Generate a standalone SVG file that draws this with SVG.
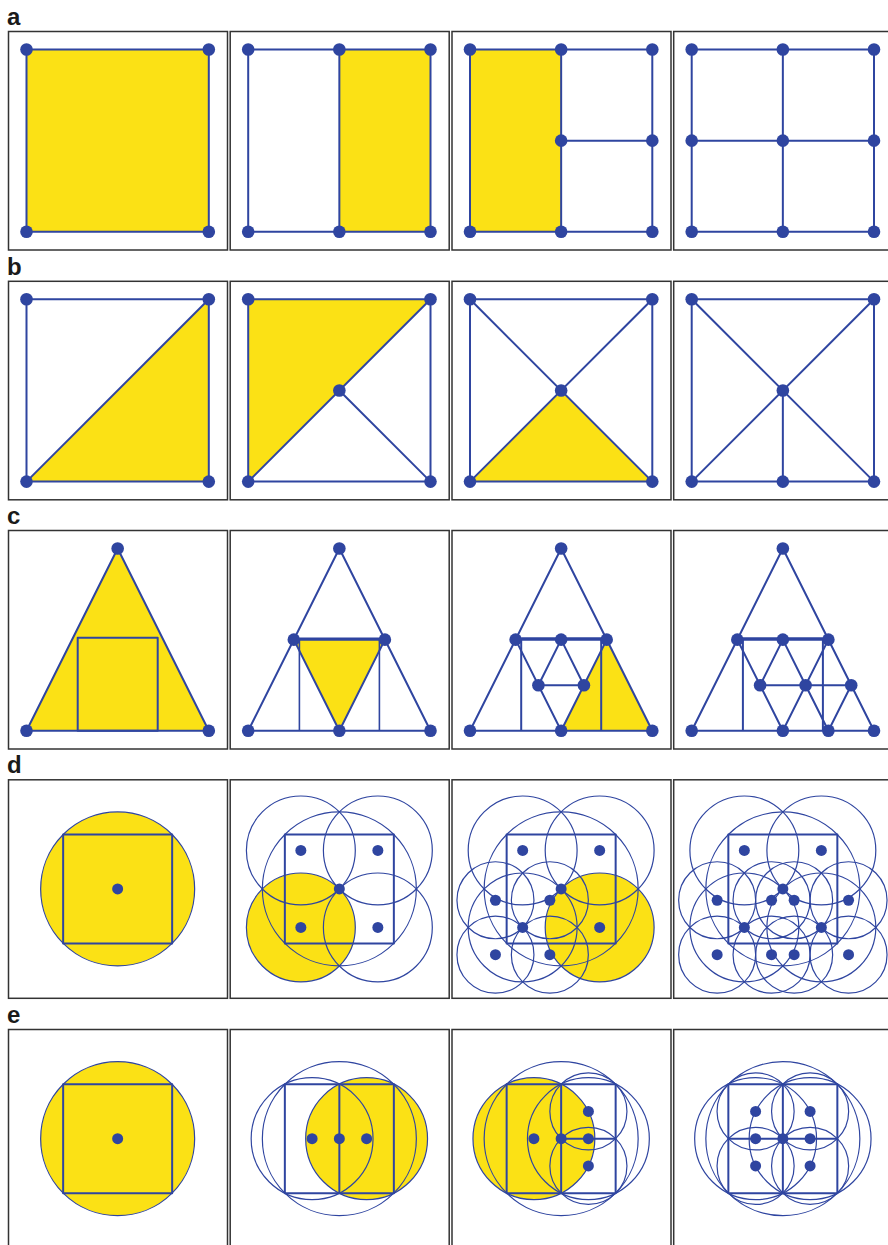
<svg xmlns="http://www.w3.org/2000/svg" width="888" height="1245" viewBox="0 0 888 1245">
<style>
.bg{fill:#ffffff}
.frame{fill:#ffffff;stroke:#333333;stroke-width:1.5}
.ln{fill:none;stroke:#2F45A0;stroke-width:2;stroke-linejoin:round}
.mid{fill:none;stroke:#2F45A0;stroke-width:1.6}
.thin{fill:none;stroke:#2F45A0;stroke-width:1.2}
.yl{fill:#FBE115}
.nd{fill:#2F45A0}
.lbl{font-family:"Liberation Sans",Arial,sans-serif;font-weight:bold;font-size:24px;fill:#1a1a1a}
</style>
<rect class="bg" x="0" y="0" width="888" height="1245"/>
<g id="labels">
<text class="lbl" x="7" y="25">a</text>
<text class="lbl" x="7" y="274.5">b</text>
<text class="lbl" x="7" y="524">c</text>
<text class="lbl" x="7" y="773">d</text>
<text class="lbl" x="7" y="1023">e</text>
</g>

<!-- Row a -->
<g id="a1" transform="translate(8,31)">
<rect class="frame" x="0.5" y="0.5" width="219" height="218.5"/>
<rect class="yl" x="18.5" y="18.5" width="182.3" height="182.3"/>
<rect class="ln" x="18.5" y="18.5" width="182.3" height="182.3"/>
<circle class="nd" cx="18.5" cy="18.5" r="6.3"/><circle class="nd" cx="200.8" cy="18.5" r="6.3"/>
<circle class="nd" cx="18.5" cy="200.8" r="6.3"/><circle class="nd" cx="200.8" cy="200.8" r="6.3"/>
</g>
<g id="a2" transform="translate(229.7,31)">
<rect class="frame" x="0.5" y="0.5" width="219" height="218.5"/>
<rect class="yl" x="109.65" y="18.5" width="91.15" height="182.3"/>
<rect class="ln" x="18.5" y="18.5" width="182.3" height="182.3"/>
<path class="ln" d="M109.65 18.5V200.8"/>
<circle class="nd" cx="18.5" cy="18.5" r="6.3"/><circle class="nd" cx="109.65" cy="18.5" r="6.3"/><circle class="nd" cx="200.8" cy="18.5" r="6.3"/>
<circle class="nd" cx="18.5" cy="200.8" r="6.3"/><circle class="nd" cx="109.65" cy="200.8" r="6.3"/><circle class="nd" cx="200.8" cy="200.8" r="6.3"/>
</g>
<g id="a3" transform="translate(451.5,31)">
<rect class="frame" x="0.5" y="0.5" width="219" height="218.5"/>
<rect class="yl" x="18.5" y="18.5" width="91.15" height="182.3"/>
<rect class="ln" x="18.5" y="18.5" width="182.3" height="182.3"/>
<path class="ln" d="M109.65 18.5V200.8M109.65 109.65H200.8"/>
<circle class="nd" cx="18.5" cy="18.5" r="6.3"/><circle class="nd" cx="109.65" cy="18.5" r="6.3"/><circle class="nd" cx="200.8" cy="18.5" r="6.3"/>
<circle class="nd" cx="109.65" cy="109.65" r="6.3"/><circle class="nd" cx="200.8" cy="109.65" r="6.3"/>
<circle class="nd" cx="18.5" cy="200.8" r="6.3"/><circle class="nd" cx="109.65" cy="200.8" r="6.3"/><circle class="nd" cx="200.8" cy="200.8" r="6.3"/>
</g>
<g id="a4" transform="translate(673.2,31)">
<rect class="frame" x="0.5" y="0.5" width="219" height="218.5"/>
<rect class="ln" x="18.5" y="18.5" width="182.3" height="182.3"/>
<path class="ln" d="M109.65 18.5V200.8M18.5 109.65H200.8"/>
<circle class="nd" cx="18.5" cy="18.5" r="6.3"/><circle class="nd" cx="109.65" cy="18.5" r="6.3"/><circle class="nd" cx="200.8" cy="18.5" r="6.3"/>
<circle class="nd" cx="18.5" cy="109.65" r="6.3"/><circle class="nd" cx="109.65" cy="109.65" r="6.3"/><circle class="nd" cx="200.8" cy="109.65" r="6.3"/>
<circle class="nd" cx="18.5" cy="200.8" r="6.3"/><circle class="nd" cx="109.65" cy="200.8" r="6.3"/><circle class="nd" cx="200.8" cy="200.8" r="6.3"/>
</g>

<!-- Row b -->
<g id="b1" transform="translate(8,280.8)">
<rect class="frame" x="0.5" y="0.5" width="219" height="218.5"/>
<polygon class="yl" points="18.5,200.8 200.8,200.8 200.8,18.5"/>
<rect class="ln" x="18.5" y="18.5" width="182.3" height="182.3"/>
<path class="ln" d="M18.5 200.8L200.8 18.5"/>
<circle class="nd" cx="18.5" cy="18.5" r="6.3"/><circle class="nd" cx="200.8" cy="18.5" r="6.3"/>
<circle class="nd" cx="18.5" cy="200.8" r="6.3"/><circle class="nd" cx="200.8" cy="200.8" r="6.3"/>
</g>
<g id="b2" transform="translate(229.7,280.8)">
<rect class="frame" x="0.5" y="0.5" width="219" height="218.5"/>
<polygon class="yl" points="18.5,18.5 200.8,18.5 18.5,200.8"/>
<rect class="ln" x="18.5" y="18.5" width="182.3" height="182.3"/>
<path class="ln" d="M18.5 200.8L200.8 18.5M109.65 109.65L200.8 200.8"/>
<circle class="nd" cx="18.5" cy="18.5" r="6.3"/><circle class="nd" cx="200.8" cy="18.5" r="6.3"/>
<circle class="nd" cx="109.65" cy="109.65" r="6.3"/>
<circle class="nd" cx="18.5" cy="200.8" r="6.3"/><circle class="nd" cx="200.8" cy="200.8" r="6.3"/>
</g>
<g id="b3" transform="translate(451.5,280.8)">
<rect class="frame" x="0.5" y="0.5" width="219" height="218.5"/>
<polygon class="yl" points="18.5,200.8 200.8,200.8 109.65,109.65"/>
<rect class="ln" x="18.5" y="18.5" width="182.3" height="182.3"/>
<path class="ln" d="M18.5 200.8L200.8 18.5M18.5 18.5L200.8 200.8"/>
<circle class="nd" cx="18.5" cy="18.5" r="6.3"/><circle class="nd" cx="200.8" cy="18.5" r="6.3"/>
<circle class="nd" cx="109.65" cy="109.65" r="6.3"/>
<circle class="nd" cx="18.5" cy="200.8" r="6.3"/><circle class="nd" cx="200.8" cy="200.8" r="6.3"/>
</g>
<g id="b4" transform="translate(673.2,280.8)">
<rect class="frame" x="0.5" y="0.5" width="219" height="218.5"/>
<rect class="ln" x="18.5" y="18.5" width="182.3" height="182.3"/>
<path class="ln" d="M18.5 200.8L200.8 18.5M18.5 18.5L200.8 200.8M109.65 109.65V200.8"/>
<circle class="nd" cx="18.5" cy="18.5" r="6.3"/><circle class="nd" cx="200.8" cy="18.5" r="6.3"/>
<circle class="nd" cx="109.65" cy="109.65" r="6.3"/>
<circle class="nd" cx="18.5" cy="200.8" r="6.3"/><circle class="nd" cx="109.65" cy="200.8" r="6.3"/><circle class="nd" cx="200.8" cy="200.8" r="6.3"/>
</g>

<!-- Row c -->
<g id="c1" transform="translate(8,530)">
<rect class="frame" x="0.5" y="0.5" width="219" height="218.5"/>
<polygon class="yl" points="109.65,18.5 200.8,200.8 18.5,200.8"/>
<polygon class="ln" points="109.65,18.5 200.8,200.8 18.5,200.8"/>
<rect class="ln" x="69.7" y="107.8" width="80" height="93"/>
<circle class="nd" cx="109.65" cy="18.5" r="6.3"/>
<circle class="nd" cx="18.5" cy="200.8" r="6.3"/><circle class="nd" cx="200.8" cy="200.8" r="6.3"/>
</g>
<g id="c2" transform="translate(229.7,530)">
<rect class="frame" x="0.5" y="0.5" width="219" height="218.5"/>
<polygon class="yl" points="64.1,109.65 155.2,109.65 109.65,200.8"/>
<polygon class="ln" points="109.65,18.5 200.8,200.8 18.5,200.8"/>
<path class="mid" d="M69.7 108.3V200.8M149.7 108.3V200.8M69.7 108.3H149.7"/>
<path class="ln" d="M64.1 109.65H155.2L109.65 200.8L64.1 109.65"/>
<circle class="nd" cx="109.65" cy="18.5" r="6.3"/>
<circle class="nd" cx="64.1" cy="109.65" r="6.3"/><circle class="nd" cx="155.2" cy="109.65" r="6.3"/>
<circle class="nd" cx="18.5" cy="200.8" r="6.3"/><circle class="nd" cx="109.65" cy="200.8" r="6.3"/><circle class="nd" cx="200.8" cy="200.8" r="6.3"/>
</g>
<g id="c3" transform="translate(451.5,530)">
<rect class="frame" x="0.5" y="0.5" width="219" height="218.5"/>
<polygon class="yl" points="155.2,109.65 109.65,200.8 200.8,200.8"/>
<polygon class="ln" points="109.65,18.5 200.8,200.8 18.5,200.8"/>
<path class="ln" d="M69.7 108.3V200.8M149.7 108.3V200.8M69.7 108.3H149.7"/>
<path class="ln" d="M64.1 109.65H155.2L109.65 200.8L64.1 109.65"/>
<path class="ln" d="M86.9 155.2L109.65 109.65L132.4 155.2Z"/>
<circle class="nd" cx="109.65" cy="18.5" r="6.3"/>
<circle class="nd" cx="64.1" cy="109.65" r="6.3"/><circle class="nd" cx="109.65" cy="109.65" r="6.3"/><circle class="nd" cx="155.2" cy="109.65" r="6.3"/>
<circle class="nd" cx="86.9" cy="155.2" r="6.3"/><circle class="nd" cx="132.4" cy="155.2" r="6.3"/>
<circle class="nd" cx="18.5" cy="200.8" r="6.3"/><circle class="nd" cx="109.65" cy="200.8" r="6.3"/><circle class="nd" cx="200.8" cy="200.8" r="6.3"/>
</g>
<g id="c4" transform="translate(673.2,530)">
<rect class="frame" x="0.5" y="0.5" width="219" height="218.5"/>
<polygon class="ln" points="109.65,18.5 200.8,200.8 18.5,200.8"/>
<path class="ln" d="M69.7 108.3V200.8M149.7 108.3V200.8M69.7 108.3H149.7"/>
<path class="ln" d="M64.1 109.65H155.2L109.65 200.8L64.1 109.65"/>
<path class="ln" d="M86.9 155.2L109.65 109.65L132.4 155.2Z"/>
<path class="ln" d="M132.4 155.2H178L155.2 200.8Z"/>
<circle class="nd" cx="109.65" cy="18.5" r="6.3"/>
<circle class="nd" cx="64.1" cy="109.65" r="6.3"/><circle class="nd" cx="109.65" cy="109.65" r="6.3"/><circle class="nd" cx="155.2" cy="109.65" r="6.3"/>
<circle class="nd" cx="86.9" cy="155.2" r="6.3"/><circle class="nd" cx="132.4" cy="155.2" r="6.3"/><circle class="nd" cx="178" cy="155.2" r="6.3"/>
<circle class="nd" cx="18.5" cy="200.8" r="6.3"/><circle class="nd" cx="109.65" cy="200.8" r="6.3"/><circle class="nd" cx="155.2" cy="200.8" r="6.3"/><circle class="nd" cx="200.8" cy="200.8" r="6.3"/>
</g>

<!-- Row d -->
<g id="d1" transform="translate(8,779.3)">
<rect class="frame" x="0.5" y="0.5" width="219" height="218.5"/>
<circle class="yl" cx="109.65" cy="109.65" r="77"/>
<circle class="thin" cx="109.65" cy="109.65" r="77"/>
<rect class="ln" x="55.15" y="55.15" width="109" height="109"/>
<circle class="nd" cx="109.65" cy="109.65" r="5.5"/>
</g>
<g id="d2" transform="translate(229.7,779.3)">
<rect class="frame" x="0.5" y="0.5" width="219" height="218.5"/>
<circle class="yl" cx="71.15" cy="148.15" r="54.45"/>
<circle class="thin" cx="109.65" cy="109.65" r="77"/>
<circle class="thin" cx="71.15" cy="71.15" r="54.45"/><circle class="thin" cx="148.15" cy="71.15" r="54.45"/>
<circle class="thin" cx="71.15" cy="148.15" r="54.45"/><circle class="thin" cx="148.15" cy="148.15" r="54.45"/>
<rect class="ln" x="55.15" y="55.15" width="109" height="109"/>
<circle class="nd" cx="109.65" cy="109.65" r="5.5"/>
<circle class="nd" cx="71.15" cy="71.15" r="5.5"/><circle class="nd" cx="148.15" cy="71.15" r="5.5"/>
<circle class="nd" cx="71.15" cy="148.15" r="5.5"/><circle class="nd" cx="148.15" cy="148.15" r="5.5"/>
</g>
<g id="d3" transform="translate(451.5,779.3)">
<rect class="frame" x="0.5" y="0.5" width="219" height="218.5"/>
<circle class="yl" cx="148.15" cy="148.15" r="54.45"/>
<circle class="thin" cx="109.65" cy="109.65" r="77"/>
<circle class="thin" cx="71.15" cy="71.15" r="54.45"/><circle class="thin" cx="148.15" cy="71.15" r="54.45"/>
<circle class="thin" cx="71.15" cy="148.15" r="54.45"/><circle class="thin" cx="148.15" cy="148.15" r="54.45"/>
<circle class="thin" cx="43.95" cy="120.95" r="38.5"/><circle class="thin" cx="98.35" cy="120.95" r="38.5"/>
<circle class="thin" cx="43.95" cy="175.35" r="38.5"/><circle class="thin" cx="98.35" cy="175.35" r="38.5"/>
<rect class="ln" x="55.15" y="55.15" width="109" height="109"/>
<circle class="nd" cx="109.65" cy="109.65" r="5.5"/>
<circle class="nd" cx="71.15" cy="71.15" r="5.5"/><circle class="nd" cx="148.15" cy="71.15" r="5.5"/>
<circle class="nd" cx="71.15" cy="148.15" r="5.5"/><circle class="nd" cx="148.15" cy="148.15" r="5.5"/>
<circle class="nd" cx="43.95" cy="120.95" r="5.5"/><circle class="nd" cx="98.35" cy="120.95" r="5.5"/>
<circle class="nd" cx="43.95" cy="175.35" r="5.5"/><circle class="nd" cx="98.35" cy="175.35" r="5.5"/>
</g>
<g id="d4" transform="translate(673.2,779.3)">
<rect class="frame" x="0.5" y="0.5" width="219" height="218.5"/>
<circle class="thin" cx="109.65" cy="109.65" r="77"/>
<circle class="thin" cx="71.15" cy="71.15" r="54.45"/><circle class="thin" cx="148.15" cy="71.15" r="54.45"/>
<circle class="thin" cx="71.15" cy="148.15" r="54.45"/><circle class="thin" cx="148.15" cy="148.15" r="54.45"/>
<circle class="thin" cx="43.95" cy="120.95" r="38.5"/><circle class="thin" cx="98.35" cy="120.95" r="38.5"/>
<circle class="thin" cx="43.95" cy="175.35" r="38.5"/><circle class="thin" cx="98.35" cy="175.35" r="38.5"/>
<circle class="thin" cx="120.95" cy="120.95" r="38.5"/><circle class="thin" cx="175.35" cy="120.95" r="38.5"/>
<circle class="thin" cx="120.95" cy="175.35" r="38.5"/><circle class="thin" cx="175.35" cy="175.35" r="38.5"/>
<rect class="ln" x="55.15" y="55.15" width="109" height="109"/>
<circle class="nd" cx="109.65" cy="109.65" r="5.5"/>
<circle class="nd" cx="71.15" cy="71.15" r="5.5"/><circle class="nd" cx="148.15" cy="71.15" r="5.5"/>
<circle class="nd" cx="71.15" cy="148.15" r="5.5"/><circle class="nd" cx="148.15" cy="148.15" r="5.5"/>
<circle class="nd" cx="43.95" cy="120.95" r="5.5"/><circle class="nd" cx="98.35" cy="120.95" r="5.5"/>
<circle class="nd" cx="43.95" cy="175.35" r="5.5"/><circle class="nd" cx="98.35" cy="175.35" r="5.5"/>
<circle class="nd" cx="120.95" cy="120.95" r="5.5"/><circle class="nd" cx="175.35" cy="120.95" r="5.5"/>
<circle class="nd" cx="120.95" cy="175.35" r="5.5"/><circle class="nd" cx="175.35" cy="175.35" r="5.5"/>
</g>

<!-- Row e -->
<g id="e1" transform="translate(8,1029)">
<rect class="frame" x="0.5" y="0.5" width="219" height="218.5"/>
<circle class="yl" cx="109.65" cy="109.65" r="77"/>
<circle class="thin" cx="109.65" cy="109.65" r="77"/>
<rect class="ln" x="55.15" y="55.15" width="109" height="109"/>
<circle class="nd" cx="109.65" cy="109.65" r="5.5"/>
</g>
<g id="e2" transform="translate(229.7,1029)">
<rect class="frame" x="0.5" y="0.5" width="219" height="218.5"/>
<circle class="yl" cx="136.9" cy="109.65" r="60.93"/>
<circle class="thin" cx="109.65" cy="109.65" r="77"/>
<circle class="thin" cx="82.4" cy="109.65" r="60.93"/><circle class="thin" cx="136.9" cy="109.65" r="60.93"/>
<rect class="ln" x="55.15" y="55.15" width="109" height="109"/>
<path class="ln" d="M109.65 55.15V164.15"/>
<circle class="nd" cx="82.4" cy="109.65" r="5.5"/><circle class="nd" cx="109.65" cy="109.65" r="5.5"/><circle class="nd" cx="136.9" cy="109.65" r="5.5"/>
</g>
<g id="e3" transform="translate(451.5,1029)">
<rect class="frame" x="0.5" y="0.5" width="219" height="218.5"/>
<circle class="yl" cx="82.4" cy="109.65" r="60.93"/>
<circle class="thin" cx="109.65" cy="109.65" r="77"/>
<circle class="thin" cx="82.4" cy="109.65" r="60.93"/><circle class="thin" cx="136.9" cy="109.65" r="60.93"/>
<circle class="thin" cx="136.9" cy="82.4" r="38.54"/><circle class="thin" cx="136.9" cy="136.9" r="38.54"/>
<rect class="ln" x="55.15" y="55.15" width="109" height="109"/>
<path class="ln" d="M109.65 55.15V164.15M109.65 109.65H164.15"/>
<circle class="nd" cx="82.4" cy="109.65" r="5.5"/><circle class="nd" cx="109.65" cy="109.65" r="5.5"/><circle class="nd" cx="136.9" cy="109.65" r="5.5"/>
<circle class="nd" cx="136.9" cy="82.4" r="5.5"/><circle class="nd" cx="136.9" cy="136.9" r="5.5"/>
</g>
<g id="e4" transform="translate(673.2,1029)">
<rect class="frame" x="0.5" y="0.5" width="219" height="218.5"/>
<circle class="thin" cx="109.65" cy="109.65" r="77"/>
<circle class="thin" cx="82.4" cy="109.65" r="60.93"/><circle class="thin" cx="136.9" cy="109.65" r="60.93"/>
<circle class="thin" cx="82.4" cy="82.4" r="38.54"/><circle class="thin" cx="82.4" cy="136.9" r="38.54"/>
<circle class="thin" cx="136.9" cy="82.4" r="38.54"/><circle class="thin" cx="136.9" cy="136.9" r="38.54"/>
<rect class="ln" x="55.15" y="55.15" width="109" height="109"/>
<path class="ln" d="M109.65 55.15V164.15M55.15 109.65H164.15"/>
<circle class="nd" cx="82.4" cy="109.65" r="5.5"/><circle class="nd" cx="109.65" cy="109.65" r="5.5"/><circle class="nd" cx="136.9" cy="109.65" r="5.5"/>
<circle class="nd" cx="82.4" cy="82.4" r="5.5"/><circle class="nd" cx="82.4" cy="136.9" r="5.5"/>
<circle class="nd" cx="136.9" cy="82.4" r="5.5"/><circle class="nd" cx="136.9" cy="136.9" r="5.5"/>
</g>
<g id="connectors"></g>
</svg>
